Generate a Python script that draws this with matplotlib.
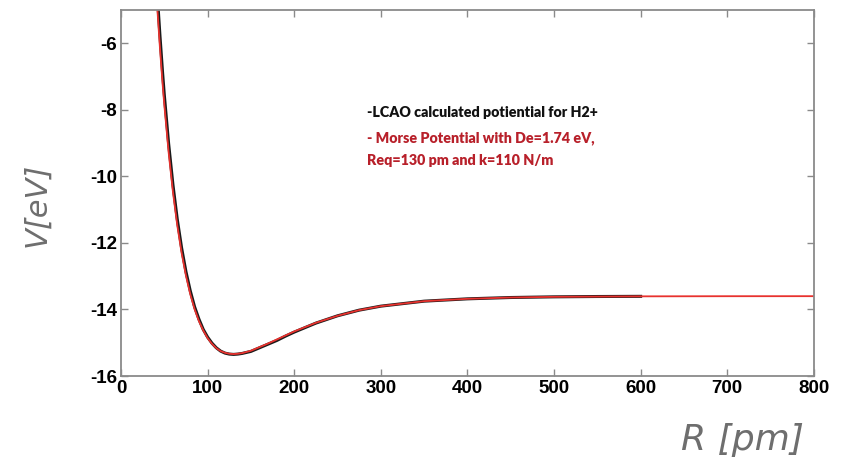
import numpy as np
import matplotlib
matplotlib.use('Agg')
import matplotlib.pyplot as plt

plt.rcParams['axes.unicode_minus'] = False

# values (R in pm, V in eV)
r_lcao = [38, 40, 42, 45, 48, 50, 55, 60, 65, 70, 75, 80, 85, 90, 95, 100, 105, 110, 115,
          120, 125, 130, 135, 140, 150, 160, 170, 180, 190, 200, 225, 250, 275, 300, 350,
          400, 450, 500, 550, 600]
v_lcao = [-2.9, -3.7, -4.57, -5.77, -6.87, -7.54, -9.01, -10.25, -11.29, -12.15, -12.86,
          -13.44, -13.92, -14.29, -14.6, -14.83, -15.01, -15.15, -15.25, -15.31, -15.34,
          -15.35, -15.34, -15.32, -15.26, -15.15, -15.04, -14.93, -14.80, -14.68, -14.41,
          -14.19, -14.02, -13.90, -13.75, -13.68, -13.64, -13.62, -13.61, -13.605]

r_morse = [38, 40, 42, 45, 48, 50, 55, 60, 65, 70, 75, 80, 85, 90, 95, 100, 105, 110, 115,
           120, 125, 130, 135, 140, 150, 160, 170, 180, 190, 200, 225, 250, 275, 300, 350,
           400, 450, 500, 600, 700, 800]
v_morse = [-2.9, -4.11, -4.97, -6.14, -7.2, -7.84, -9.27, -10.47, -11.47, -12.30, -12.98,
           -13.54, -13.99, -14.35, -14.63, -14.86, -15.03, -15.16, -15.25, -15.30, -15.33,
           -15.34, -15.33, -15.31, -15.24, -15.13, -15.02, -14.90, -14.78, -14.66, -14.40,
           -14.19, -14.02, -13.90, -13.75, -13.68, -13.64, -13.62, -13.605, -13.601, -13.60]

x_ticks = [0, 100, 200, 300, 400, 500, 600, 700, 800]
y_ticks = [-16, -14, -12, -10, -8, -6]

fig = plt.figure(figsize=(8.46, 4.76), dpi=100)
ax = fig.add_axes([0.143, 0.210, 0.819, 0.769])

ax.plot(r_lcao, v_lcao, color='#1a1a1a', lw=2.2, solid_joinstyle='round')
ax.plot(r_morse, v_morse, color='#e8322e', lw=1.3, solid_joinstyle='round')

ax.set_xlim(0, 800)
ax.set_ylim(-16, -5)
ax.set_xticks(x_ticks)
ax.set_yticks(y_ticks)

for s in ax.spines.values():
    s.set_color('#8a8a8a')
    s.set_linewidth(1.3)
ax.tick_params(direction='in', top=True, right=True, length=5, width=1,
               color='#8a8a8a', labelsize=13.5, pad=3)
for lab in ax.get_xticklabels() + ax.get_yticklabels():
    lab.set_fontweight('bold')
    lab.set_fontfamily(['Liberation Sans', 'DejaVu Sans'])

fam = ['Lato', 'Liberation Sans', 'DejaVu Sans']
ax.text(0.355, 0.719, '-LCAO calculated potiential for H2+', transform=ax.transAxes,
        fontsize=10.3, fontweight='heavy', color='#111111', family=fam, va='center')
ax.text(0.355, 0.650, '- Morse Potential with De=1.74 eV,', transform=ax.transAxes,
        fontsize=10.3, fontweight='heavy', color='#b8202a', family=fam, va='center')
ax.text(0.355, 0.590, 'Req=130 pm and k=110 N/m', transform=ax.transAxes,
        fontsize=10.3, fontweight='heavy', color='#b8202a', family=fam, va='center')

# hand-written style axis labels
fig.text(0.044, 0.57, 'V[eV]', rotation=90, fontsize=22, color='#6e6e6e',
         ha='center', va='center', style='italic', fontweight='light')
fig.text(0.878, 0.076, 'R [pm]', fontsize=26, color='#6e6e6e',
         ha='center', va='center', style='italic', fontweight='light')

plt.savefig('out.png', dpi=100)
plt.close()
